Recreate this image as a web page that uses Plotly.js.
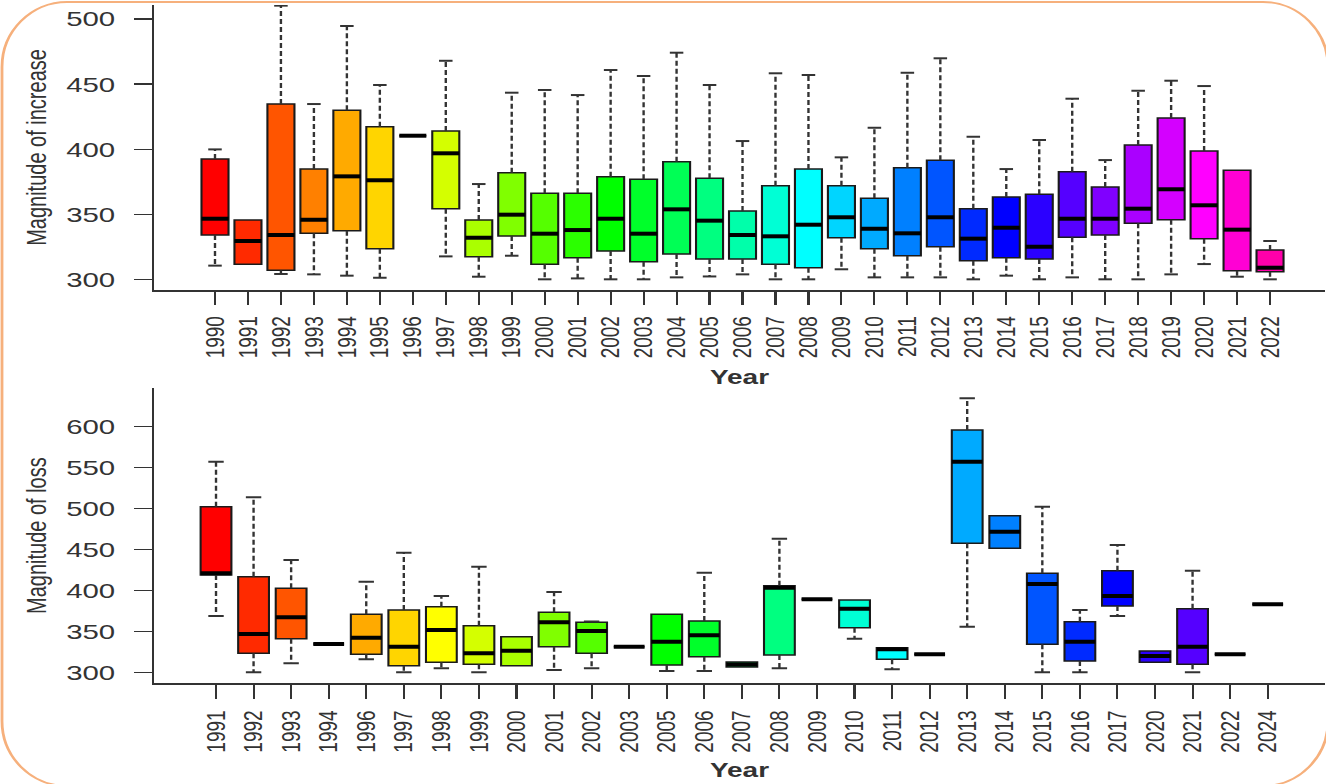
<!DOCTYPE html>
<html><head><meta charset="utf-8">
<script src="https://cdn.plot.ly/plotly-3.0.1.min.js"></script>
<style>
html,body{margin:0;padding:0;background:#fff;overflow:hidden}
#wrap{position:relative;width:1326px;height:784px;overflow:hidden;background:#fff}
#chart{position:absolute;left:0;top:0;width:947px;height:784px;transform:scaleX(1.40021);transform-origin:0 0}
</style>
</head><body><div id="wrap"><div id="chart"></div></div>
<script>
// ---------- Data: Magnitude of increase ----------
const incYears = ['1990','1991','1992','1993','1994','1995','1996','1997','1998','1999','2000','2001','2002','2003','2004','2005','2006','2007','2008','2009','2010','2011','2012','2013','2014','2015','2016','2017','2018','2019','2020','2021','2022'];
const incLower  = [310.8,311.8,304.4,304.1,303.1,301.5,410.5,317.9,302.3,318.4,300.3,301.0,300.3,300.3,301.8,302.5,304.1,300.3,300.3,308.0,301.8,301.8,301.8,300.3,303.1,300.3,301.8,300.3,300.3,304.1,312.0,302.3,300.3];
const incQ1     = [334.3,311.8,307.2,335.6,337.6,323.8,410.5,354.5,317.7,333.5,311.8,316.9,322.0,313.8,319.7,315.9,315.9,311.8,309.2,332.2,323.8,318.4,325.3,314.6,316.9,315.9,332.5,334.3,343.3,346.0,331.5,306.9,306.1];
const incMedian = [346.8,329.7,334.3,346.0,379.3,376.3,410.5,397.0,332.2,349.9,335.3,338.1,346.8,335.3,354.0,345.3,334.3,333.3,342.2,347.9,339.1,335.6,347.9,331.5,339.9,325.3,346.8,346.8,354.5,369.4,357.1,338.4,309.2];
const incQ3     = [392.6,345.8,434.8,384.9,430.0,417.4,410.5,414.1,345.8,382.1,366.3,366.3,379.0,377.0,390.5,377.8,352.7,372.1,384.9,372.1,362.5,385.9,391.6,354.5,363.5,365.5,382.9,371.1,403.4,424.1,398.7,383.9,322.8];
const incUpper  = [400.0,345.8,510.3,434.8,494.7,449.4,410.5,468.0,373.4,443.5,445.6,441.7,460.9,456.3,474.2,449.4,406.4,458.4,457.1,393.9,416.6,458.8,469.9,409.7,384.9,407.2,438.9,391.8,445.0,452.7,448.6,383.9,329.7];
const incTicks  = [300,350,400,450,500];

// ---------- Data: Magnitude of loss ----------
const lossYears = ['1991','1992','1993','1994','1996','1997','1998','1999','2000','2001','2002','2003','2005','2006','2007','2008','2009','2010','2011','2012','2013','2014','2015','2016','2017','2020','2021','2022','2024'];
const lossLower  = [368.8,300.0,311.0,334.6,315.9,300.0,304.9,300.0,308.1,302.8,304.9,331.3,301.6,301.6,306.5,304.9,389.2,341.0,303.7,322.0,355.7,451.5,300.0,300.0,368.8,312.2,300.0,322.0,383.0];
const lossQ1     = [418.8,323.2,341.0,334.6,322.0,308.1,312.2,309.8,308.1,331.3,323.2,331.3,308.9,319.0,306.5,321.1,389.2,354.5,315.9,322.0,457.6,451.5,334.2,313.8,381.0,312.2,309.8,322.0,383.0];
const lossMedian = [420.9,346.8,367.2,334.6,342.3,331.3,351.7,323.2,326.4,361.1,350.4,331.3,337.4,345.2,309.5,403.4,389.2,377.7,328.1,322.0,557.2,471.7,407.9,337.4,393.2,319.9,331.3,322.0,383.0];
const lossQ3     = [502.3,416.8,402.6,334.6,370.8,376.1,380.1,356.9,343.5,373.3,361.1,331.3,370.8,362.7,312.5,405.8,389.2,388.3,330.0,322.0,596.0,491.3,420.9,361.8,424.1,326.0,377.7,322.0,383.0];
const lossUpper  = [557.3,513.7,437.2,334.6,410.7,446.1,393.2,429.0,343.5,398.1,362.0,331.3,370.8,421.7,312.5,463.2,389.2,388.3,330.0,322.0,634.7,491.3,502.3,376.1,455.5,326.0,424.1,322.0,383.0];
const lossTicks  = [300,350,400,450,500,550,600];

// ---------- helpers ----------
function hsvHex(h){
  h = ((h % 360) + 360) % 360;
  const c = 1, x = c * (1 - Math.abs((h / 60) % 2 - 1));
  let r=0,g=0,b=0;
  if(h<60){r=c;g=x;}else if(h<120){r=x;g=c;}else if(h<180){g=c;b=x;}
  else if(h<240){g=x;b=c;}else if(h<300){r=x;b=c;}else{r=c;b=x;}
  const t = v => Math.round(v*255).toString(16).padStart(2,'0');
  return '#' + t(r) + t(g) + t(b);
}
const BOXW = 0.82, CAPW = 0.41;
function panel(years, lower, q1, med, q3, upper, xa, ya){
  const xs = years.map((_,i)=>i+1);
  const colors = xs.map((_,i)=>hsvHex(i*10));
  const traces = [];
  traces.push({type:'bar', x:xs, base:q1, y:q3.map((v,i)=>v-q1[i]), width:BOXW,
    marker:{color:colors, line:{color:'#1a1a1a', width:1.5}}, xaxis:xa, yaxis:ya, hoverinfo:'skip', showlegend:false});
  const wx=[], wy=[], cx=[], cy=[], mx=[], my=[];
  xs.forEach((x,i)=>{
    if(upper[i] > q3[i]){ wx.push(x,x,null); wy.push(q3[i],upper[i],null); cx.push(x-CAPW/2,x+CAPW/2,null); cy.push(upper[i],upper[i],null); }
    if(lower[i] < q1[i]){ wx.push(x,x,null); wy.push(q1[i],lower[i],null); cx.push(x-CAPW/2,x+CAPW/2,null); cy.push(lower[i],lower[i],null); }
    mx.push(x-BOXW/2, x+BOXW/2, null); my.push(med[i], med[i], null);
  });
  traces.push({type:'scatter', mode:'lines', x:wx, y:wy, line:{color:'#333', width:1.7, dash:'5px,3px'}, xaxis:xa, yaxis:ya, hoverinfo:'skip', showlegend:false, cliponaxis:false});
  traces.push({type:'scatter', mode:'lines', x:cx, y:cy, line:{color:'#333', width:2}, xaxis:xa, yaxis:ya, hoverinfo:'skip', showlegend:false, cliponaxis:false});
  traces.push({type:'scatter', mode:'lines', x:mx, y:my, line:{color:'#000', width:4}, xaxis:xa, yaxis:ya, hoverinfo:'skip', showlegend:false, cliponaxis:false});
  return traces;
}

const data = [].concat(
  panel(incYears, incLower, incQ1, incMedian, incQ3, incUpper, 'x', 'y'),
  panel(lossYears, lossLower, lossQ1, lossMedian, lossQ3, lossUpper, 'x2', 'y2')
);

const W = 947, H = 784, REALW = 1326;
const yTickFont = {family:'Liberation Sans, Arial, sans-serif', size:21, color:'#333'};
const xTickFont = {family:'Liberation Sans, Arial, sans-serif', size:19, color:'#333'};
const yTitleFont = {family:'Liberation Sans, Arial, sans-serif', size:20, color:'#333'};
const xTitleFont = {family:'Liberation Sans, Arial, sans-serif', size:20, color:'#333'};
const common = {showline:true, linecolor:'#333', linewidth:1.5, ticks:'outside', tickcolor:'#333', tickwidth:1.5,
  showgrid:false, zeroline:false, automargin:false, fixedrange:true};

// rounded frame (given in real pixels, converted to paper fractions)
function px(x){return x/REALW;} function py(y){return 1 - y/H;}
function roundRect(x0,y0,x1,y1,r){
  const k = 0.5523*r;
  const P=(x,y)=>px(x)+','+py(y);
  return 'M'+P(x0+r,y0)+' L'+P(x1-r,y0)+' C'+P(x1-r+k,y0)+' '+P(x1,y0+r-k)+' '+P(x1,y0+r)+
    ' L'+P(x1,y1-r)+' C'+P(x1,y1-r+k)+' '+P(x1-r+k,y1)+' '+P(x1-r,y1)+
    ' L'+P(x0+r,y1)+' C'+P(x0+r-k,y1)+' '+P(x0,y1-r+k)+' '+P(x0,y1-r)+
    ' L'+P(x0,y0+r)+' C'+P(x0,y0+r-k)+' '+P(x0+r-k,y0)+' '+P(x0+r,y0)+' Z';
}

const layout = {
  width:W, height:H, margin:{l:0,r:0,t:0,b:0,pad:0},
  paper_bgcolor:'#fff', plot_bgcolor:'rgba(0,0,0,0)', showlegend:false, hovermode:false, bargap:0,
  xaxis: Object.assign({}, common, {domain:[154/REALW, 1325/REALW], range:[-0.85, 34.667], anchor:'y',
    tickvals:incYears.map((_,i)=>i+1), ticktext:incYears, tickangle:-90, ticklen:13, ticklabelstandoff:4, tickfont:xTickFont,
    title:{text:'<b>Year</b>', font:xTitleFont, standoff:12}}),
  yaxis: Object.assign({}, common, {domain:[1-290/H, 1-5/H], range:[292.1, 510.8], anchor:'x',
    tickvals:incTicks, ticktext:incTicks.map(String), ticklen:13, ticklabelstandoff:9, tickfont:yTickFont,
    title:{text:'Magnitude of increase', font:yTitleFont, standoff:8}}),
  xaxis2: Object.assign({}, common, {domain:[154/REALW, 1325/REALW], range:[-0.651, 30.526], anchor:'y2',
    tickvals:lossYears.map((_,i)=>i+1), ticktext:lossYears, tickangle:-90, ticklen:14, ticklabelstandoff:4, tickfont:xTickFont,
    title:{text:'<b>Year</b>', font:xTitleFont, standoff:11}}),
  yaxis2: Object.assign({}, common, {domain:[1-683.3/H, 1-388/H], range:[286.56, 647.3], anchor:'x2',
    tickvals:lossTicks, ticktext:lossTicks.map(String), ticklen:13, ticklabelstandoff:9, tickfont:yTickFont,
    title:{text:'Magnitude of loss', font:yTitleFont, standoff:8}}),
  shapes:[{type:'path', xref:'paper', yref:'paper', path:roundRect(2,2,1328,786,65), line:{color:'#F6B07C', width:2}, layer:'above'}]
};

Plotly.newPlot('chart', data, layout, {staticPlot:true, displayModeBar:false});
</script>
</body></html>
